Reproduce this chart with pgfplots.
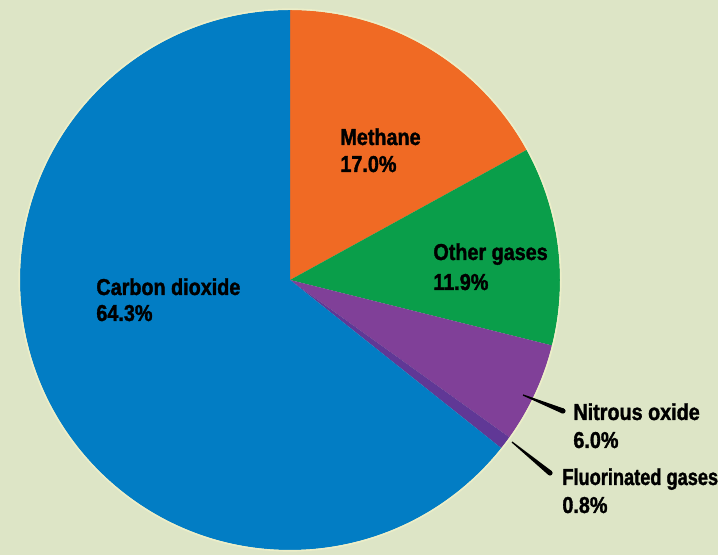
\documentclass[border=0pt]{standalone}
\usepackage{pgfplots}
\pgfplotsset{compat=1.18}
\usepackage{pgfplotstable}
\usepackage{fontspec}
\setmainfont{Liberation Sans}[FakeStretch=0.86, BoldFeatures={FakeBold=1.5}]

\definecolor{bg}{RGB}{221,229,198}
\definecolor{c0}{RGB}{240,106,36}   % methane
\definecolor{c1}{RGB}{10,158,74}    % other gases
\definecolor{c2}{RGB}{128,64,152}   % nitrous oxide
\definecolor{c3}{RGB}{96,56,150}    % fluorinated gases
\definecolor{c4}{RGB}{2,125,196}    % carbon dioxide

\tikzset{lbl/.style={anchor=base west, inner sep=0pt,
    font=\bfseries\fontsize{11.5}{13}\selectfont}}

% share of emissions, percent, clockwise from the top
\pgfplotstableread{
name value
Methane 17.0
Other 11.9
Nitrous 6.0
Fluorinated 0.8
CO2 64.3
}\gases

\begin{document}
\begin{tikzpicture}
% start and end angle of every slice
\def\cum{0}
\foreach \i in {0,...,4}{%
  \pgfplotstablegetelem{\i}{value}\of\gases
  \pgfmathsetmacro\st{90-3.6*\cum}
  \pgfmathsetmacro\nx{\cum+\pgfplotsretval}
  \pgfmathsetmacro\en{90-3.6*\nx}
  \expandafter\xdef\csname st\i\endcsname{\st}
  \expandafter\xdef\csname en\i\endcsname{\en}
  \xdef\cum{\nx}
}
\begin{axis}[
  hide axis, scale only axis,
  x=0.5pt, y=0.5pt,
  xmin=0, xmax=718, ymin=0, ymax=555,
  at={(0,0)}, anchor=south west,
]
\fill[bg] (axis cs:0,0) rectangle (axis cs:718,555);
\pgfplotsinvokeforeach{0,...,4}{
  \fill[c#1] (axis cs:290,275) -- ++({\csname st#1\endcsname}:135pt)
    arc[start angle={\csname st#1\endcsname}, end angle={\csname en#1\endcsname}, radius=135pt] -- cycle;
}
\draw[line width=0.8pt, color={rgb,255:red,236;green,238;blue,200}] (axis cs:290,275) circle[radius=135.4pt];

% leader lines, tapered
\fill[black] (axis cs:522.8,159.4) -- (axis cs:562.0,141.6) -- (axis cs:564.0,146.4)
  -- (axis cs:523.2,160.6) -- cycle;
\fill[black] (axis cs:563,144) circle[radius=1.3pt];
\fill[black] (axis cs:511.6,112.5) -- (axis cs:548.4,80.0) -- (axis cs:551.6,84.0)
  -- (axis cs:512.4,113.5) -- cycle;
\fill[black] (axis cs:550,82) circle[radius=1.3pt];

\node[lbl] at (axis cs:340,410) {Methane};
\node[lbl] at (axis cs:340,383) {17.0\%};
\node[lbl] at (axis cs:433,295) {Other gases};
\node[lbl] at (axis cs:433,265) {11.9\%};
\node[lbl] at (axis cs:96,260) {Carbon dioxide};
\node[lbl] at (axis cs:96,234) {64.3\%};
\node[lbl] at (axis cs:573,135) {Nitrous oxide};
\node[lbl] at (axis cs:573,107) {6.0\%};
\node[lbl] at (axis cs:562,70) {\scalebox{0.92}[1]{Fluorinated gases}};
\node[lbl] at (axis cs:562,42) {0.8\%};
\end{axis}
\pgfresetboundingbox
\path (0,0) rectangle (359pt,277.5pt);
\end{tikzpicture}
\end{document}
